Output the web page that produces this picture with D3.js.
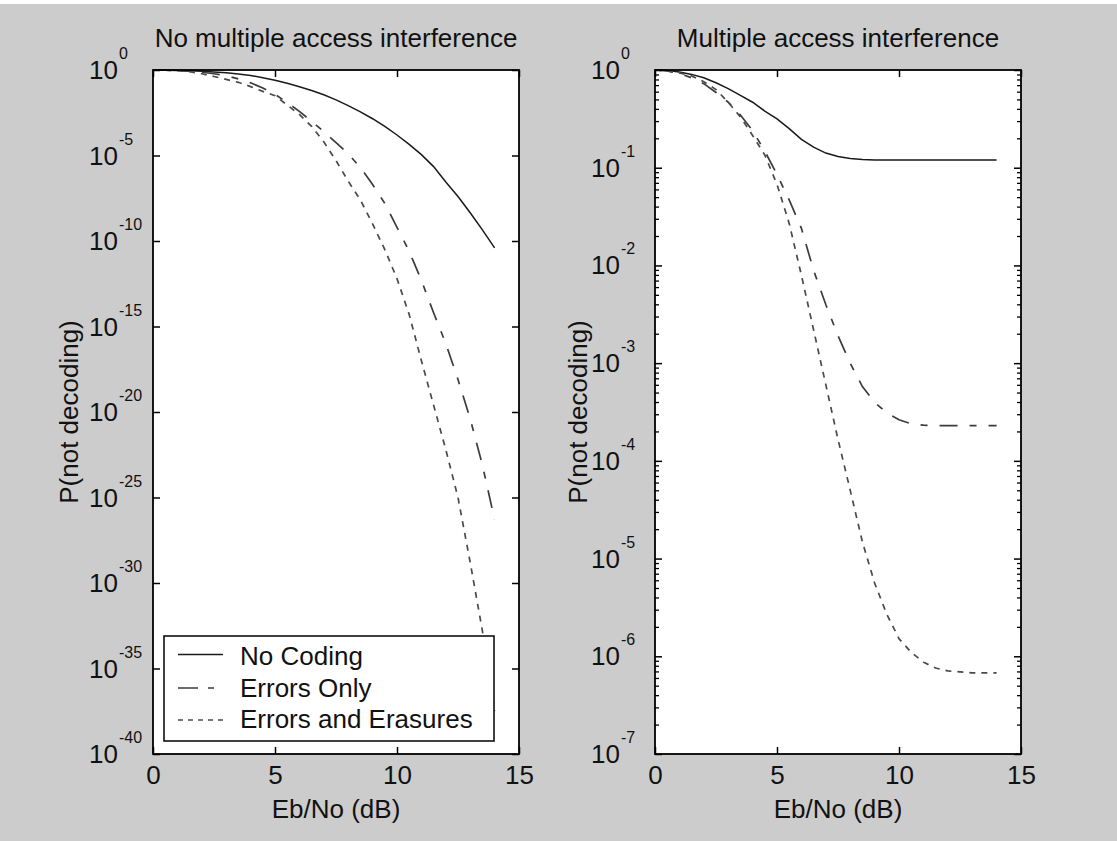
<!DOCTYPE html>
<html><head><meta charset="utf-8">
<script src="https://cdn.jsdelivr.net/npm/d3@7"></script>
<style>
body{margin:0;background:#cccccc;overflow:hidden;}
text{font-family:"Liberation Sans",Arial,sans-serif;fill:#111;}
</style>
</head><body>
<svg id="c" width="1117" height="841"></svg>
<script>
// ---- data (Eb/No in dB, log10 of P(not decoding)) ----
const ebno = [0,0.5,1,1.5,2,2.5,3,3.5,4,4.5,5,5.5,6,6.5,7,7.5,8,8.5,9,9.5,10,10.5,11,11.5,12,12.5,13,13.5,14];
// Left panel: no multiple access interference
const noCodingNoMAI   = [0,-0.01,-0.03,-0.05,-0.08,-0.11,-0.16,-0.23,-0.32,-0.45,-0.6,-0.78,-0.98,-1.2,-1.45,-1.75,-2.08,-2.45,-2.85,-3.3,-3.8,-4.35,-4.95,-5.65,-6.55,-7.4,-8.35,-9.35,-10.4];
const errorsOnlyNoMAI = [0,-0.01,-0.03,-0.07,-0.13,-0.22,-0.33,-0.52,-0.75,-1.05,-1.42,-1.9,-2.42,-3.0,-3.6,-4.25,-4.9,-5.7,-6.7,-7.8,-9.2,-10.6,-12.3,-14.2,-16.0,-18.1,-20.4,-23.1,-26.3];
const erasuresNoMAI   = [0,-0.01,-0.04,-0.1,-0.22,-0.38,-0.55,-0.72,-0.97,-1.25,-1.5,-2.05,-2.6,-3.3,-4.2,-5.3,-6.5,-7.6,-9.0,-10.5,-12.2,-14.3,-17.0,-19.6,-22.2,-25.0,-28.8,-32.8,-37.5];
// Right panel: multiple access interference
const noCodingMAI   = [0,-0.005,-0.02,-0.045,-0.08,-0.13,-0.19,-0.26,-0.33,-0.42,-0.5,-0.6,-0.71,-0.79,-0.85,-0.885,-0.905,-0.915,-0.92,-0.92,-0.92,-0.92,-0.92,-0.92,-0.92,-0.92,-0.92,-0.92,-0.92];
const errorsOnlyMAI = [0,-0.01,-0.035,-0.08,-0.14,-0.23,-0.33,-0.46,-0.62,-0.83,-1.07,-1.33,-1.62,-2.05,-2.4,-2.72,-3.0,-3.24,-3.4,-3.51,-3.58,-3.62,-3.635,-3.64,-3.64,-3.64,-3.64,-3.64,-3.64];
const erasuresMAI   = [0,-0.01,-0.03,-0.06,-0.12,-0.2,-0.33,-0.48,-0.67,-0.87,-1.17,-1.57,-2.1,-2.66,-3.22,-3.78,-4.3,-4.83,-5.25,-5.57,-5.82,-5.96,-6.06,-6.12,-6.15,-6.16,-6.17,-6.17,-6.17];

const seriesNames = ["No Coding","Errors Only","Errors and Erasures"];
const titles = ["No multiple access interference","Multiple access interference"];
const xTicks = [0,5,10,15];
const yTicksLeft = [0,-5,-10,-15,-20,-25,-30,-35,-40];   // exponents
const yTicksRight = [0,-1,-2,-3,-4,-5,-6,-7];
const xLabel = "Eb/No (dB)";
const yLabel = "P(not decoding)";

const dashes = [null, "18,12,7,12", "6,6"];
const legendDashes = [null, "20,10,6,10", "5,5"];
const strokes = ["#1a1a1a","#3c3c3c","#4a4a4a"];

const svg = d3.select("#c");
svg.append("rect").attr("x",0).attr("y",0).attr("width",1117).attr("height",841).attr("fill","#cccccc");
svg.append("rect").attr("x",0).attr("y",0).attr("width",1117).attr("height",4).attr("fill","#ffffff");

const plotTop = 70, plotBottom = 754;
const panels = [
  {left:153, right:519, yMinExp:-40, ticks:yTicksLeft, series:[noCodingNoMAI,errorsOnlyNoMAI,erasuresNoMAI], title:titles[0], minor:false, legend:true, ylabX:78},
  {left:655, right:1021, yMinExp:-7, ticks:yTicksRight, series:[noCodingMAI,errorsOnlyMAI,erasuresMAI], title:titles[1], minor:true, legend:false, ylabX:587}
];

panels.forEach((p,pi)=>{
  const x = d3.scaleLinear().domain([0,15]).range([p.left,p.right]);
  const y = d3.scaleLog().domain([Math.pow(10,p.yMinExp),1]).range([plotBottom,plotTop]);
  const g = svg.append("g");
  g.append("rect").attr("x",p.left).attr("y",plotTop).attr("width",p.right-p.left).attr("height",plotBottom-plotTop).attr("fill","#ffffff");

  const clipId = "clip"+pi;
  svg.append("clipPath").attr("id",clipId).append("rect")
    .attr("x",p.left).attr("y",plotTop-1).attr("width",p.right-p.left).attr("height",plotBottom-plotTop+2);

  const line = d3.line().x(d=>x(d[0])).y(d=>y(d[1]));
  p.series.forEach((s,si)=>{
    const pts = ebno.map((e,i)=>[e, Math.pow(10, s[i])]);
    g.append("path").attr("d",line(pts)).attr("fill","none")
      .attr("stroke",strokes[si]).attr("stroke-width",si===0?1.5:1.7)
      .attr("stroke-dasharray",dashes[si]).attr("clip-path",`url(#${clipId})`);
  });

  // minor ticks (log)
  if(p.minor){
    const majors = new Set(p.ticks.map(e=>Math.pow(10,e).toExponential(3)));
    const minors = y.ticks().filter(v=>!majors.has(v.toExponential(3)));
    g.append("g").attr("transform",`translate(${p.left},0)`)
      .call(d3.axisLeft(y).tickValues(minors).tickSize(-4).tickSizeOuter(0).tickFormat(""))
      .call(a=>{a.select(".domain").remove();a.selectAll("line").attr("stroke","#000").attr("stroke-width",1.3);});
    g.append("g").attr("transform",`translate(${p.right},0)`)
      .call(d3.axisRight(y).tickValues(minors).tickSize(-4).tickSizeOuter(0).tickFormat(""))
      .call(a=>{a.select(".domain").remove();a.selectAll("line").attr("stroke","#000").attr("stroke-width",1.3);});
  }
  const majorVals = p.ticks.map(e=>Math.pow(10,e));
  g.append("g").attr("transform",`translate(${p.left},0)`)
    .call(d3.axisLeft(y).tickValues(majorVals).tickSize(-7).tickSizeOuter(0).tickFormat(""))
    .call(a=>{a.select(".domain").remove();a.selectAll("line").attr("stroke","#000").attr("stroke-width",1.5);});
  g.append("g").attr("transform",`translate(${p.right},0)`)
    .call(d3.axisRight(y).tickValues(majorVals).tickSize(-7).tickSizeOuter(0).tickFormat(""))
    .call(a=>{a.select(".domain").remove();a.selectAll("line").attr("stroke","#000").attr("stroke-width",1.5);});
  g.append("g").attr("transform",`translate(0,${plotBottom})`)
    .call(d3.axisBottom(x).tickValues(xTicks).tickSize(-7).tickSizeOuter(0).tickPadding(12).tickFormat(d3.format("d")))
    .call(a=>{a.select(".domain").remove();a.selectAll("line").attr("stroke","#000").attr("stroke-width",1.5);
      a.selectAll("text").attr("font-size",26).attr("fill","#111").attr("font-family","Liberation Sans, Arial, sans-serif");});
  g.append("g").attr("transform",`translate(0,${plotTop})`)
    .call(d3.axisTop(x).tickValues(xTicks).tickSize(-7).tickSizeOuter(0).tickFormat(""))
    .call(a=>{a.select(".domain").remove();a.selectAll("line").attr("stroke","#000").attr("stroke-width",1.5);});

  // y tick labels 10^e
  p.ticks.forEach(e=>{
    const ty = y(Math.pow(10,e));
    const t = g.append("text").attr("x",p.left-64).attr("y",ty+9).attr("font-size",26).text("10");
    t.append("tspan").attr("dy",-20).attr("dx",1).attr("font-size",16).text(String(e));
  });

  // frame
  g.append("rect").attr("x",p.left).attr("y",plotTop).attr("width",p.right-p.left).attr("height",plotBottom-plotTop)
    .attr("fill","none").attr("stroke","#000").attr("stroke-width",1.8);

  // titles and labels
  const cx = (p.left+p.right)/2;
  g.append("text").attr("x",cx).attr("y",47).attr("text-anchor","middle").attr("font-size",26).text(p.title);
  g.append("text").attr("x",cx).attr("y",818).attr("text-anchor","middle").attr("font-size",26).text(xLabel);
  g.append("text").attr("transform",`translate(${p.ylabX},${(plotTop+plotBottom)/2}) rotate(-90)`)
    .attr("text-anchor","middle").attr("font-size",26).text(yLabel);

  if(p.legend){
    const lg = g.append("g");
    lg.append("rect").attr("x",164).attr("y",636).attr("width",330).attr("height",105)
      .attr("fill","#ffffff").attr("stroke","#000").attr("stroke-width",1.5);
    const rowY = [654.5, 688, 720];
    const baseY = [665, 697, 728];
    seriesNames.forEach((n,i)=>{
      lg.append("line").attr("x1",178).attr("x2",223).attr("y1",rowY[i]).attr("y2",rowY[i])
        .attr("stroke",strokes[i]).attr("stroke-width",1.6).attr("stroke-dasharray",legendDashes[i]);
      lg.append("text").attr("x",240).attr("y",baseY[i]).attr("font-size",26).text(n);
    });
  }
});
</script>
</body></html>
